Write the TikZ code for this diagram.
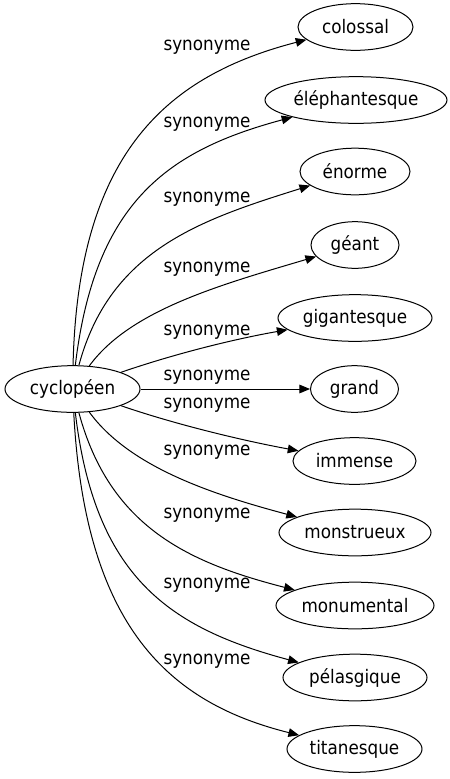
\documentclass[tikz,border=0pt]{standalone}
\usepackage{fontspec}
\setmainfont{DejaVu Sans}[FakeStretch=0.9]
\usepackage{tikz}
\usetikzlibrary{shapes.geometric,arrows.meta}

\tikzset{
  word/.style={draw, ellipse, inner sep=0pt, minimum height=35pt, line width=0.75pt},
  rel/.style={font=\fontsize{14}{16}\selectfont, inner sep=0pt},
  syn/.style={line width=0.75pt, -{Triangle[length=8pt,width=6.5pt]}}
}

\begin{document}
\begin{tikzpicture}[x=0.75pt,y=-0.75pt,font=\fontsize{14}{16}\selectfont]
\useasboundingbox (0,0) rectangle (450,779);
\node[word,minimum width=101.25pt] (cyc) at (72.5,389) {cyclopéen};
\node[word,minimum width=86.25pt] (colossal) at (355.5,27) {colossal};
\node[word,minimum width=136.5pt] (eleph) at (356,100) {éléphantesque};
\node[word,minimum width=82.5pt] (enorme) at (355,171.5) {énorme};
\node[word,minimum width=66pt] (geant) at (355,245) {géant};
\node[word,minimum width=115.5pt] (gigant) at (355,318) {gigantesque};
\node[word,minimum width=66pt] (grand) at (354.5,389) {grand};
\node[word,minimum width=92.25pt] (immense) at (354.5,461) {immense};
\node[word,minimum width=114pt] (monstr) at (355,532.5) {monstrueux};
\node[word,minimum width=118.5pt] (monum) at (355,605.5) {monumental};
\node[word,minimum width=108pt] (pelasg) at (355,677.5) {pélasgique};
\node[word,minimum width=101.25pt] (titan) at (354.5,749) {titanesque};
%labels
\node[rel] (l1) at (207,47) {synonyme};
\node[rel] (l2) at (207,124) {synonyme};
\node[rel] (l3) at (207,199) {synonyme};
\node[rel] (l4) at (207,269) {synonyme};
\node[rel] (l5) at (207,332) {synonyme};
\node[rel] (l6) at (207,377) {synonyme};
\node[rel] (l7) at (207,405) {synonyme};
\node[rel] (l8) at (207,452) {synonyme};
\node[rel] (l9) at (207,515) {synonyme};
\node[rel] (l10) at (207,585) {synonyme};
\node[rel] (l11) at (207,661) {synonyme};
%edges
\draw[syn] (cyc) .. controls (78,150) and (170,75) .. (colossal);
\draw[syn] (cyc) .. controls (95,200) and (170,150) .. (eleph);
\draw[syn] (cyc) .. controls (110,250) and (200,220) .. (enorme);
\draw[syn] (cyc) .. controls (130,310) and (220,285) .. (geant);
\draw[syn] (cyc) .. controls (180,352) and (240,338) .. (gigant);
\draw[syn] (cyc) -- (grand);
\draw[syn] (cyc) .. controls (180,426) and (250,442) .. (immense);
\draw[syn] (cyc) .. controls (130,468) and (215,495) .. (monstr);
\draw[syn] (cyc) .. controls (110,528) and (190,563) .. (monum);
\draw[syn] (cyc) .. controls (95,578) and (170,628) .. (pelasg);
\draw[syn] (cyc) .. controls (85,628) and (170,703) .. (titan);
\end{tikzpicture}
\end{document}
